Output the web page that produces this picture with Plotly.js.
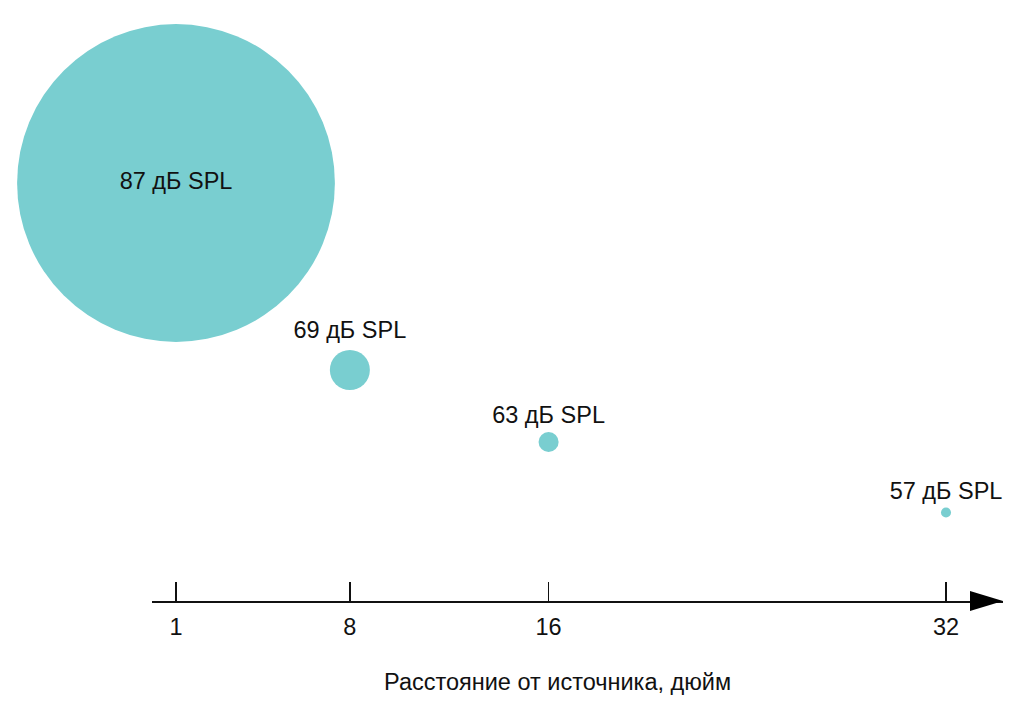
<!DOCTYPE html>
<html>
<head>
<meta charset="utf-8">
<script src="https://cdn.plot.ly/plotly-3.0.1.min.js"></script>
<style>html,body{margin:0;padding:0;background:#fff;}</style>
</head>
<body>
<div id="chart" style="width:1024px;height:710px;"></div>
<script>
// Data
const distance = [1, 8, 16, 32];          // inches from source
const levelDb = [87, 69, 63, 57];         // dB SPL
const level = [4.18, 2.31, 1.59, 0.885];  // vertical placement of each bubble (arbitrary units)
const tickValues = [1, 8, 16, 32];
const tickLabels = ['1', '8', '16', '32'];
const xTitle = 'Расстояние от источника, дюйм';

// Bubble area proportional to sound intensity
const intensity = levelDb.map(d => Math.pow(10, d / 10));
const minI = Math.min(...intensity);
const smallestDiameter = 10.05;
const labels = levelDb.map(d => d + ' дБ SPL');
const positions = levelDb.map((d, i) => i === 0 ? 'middle center' : 'top center');

const teal = '#79CED0';
const font = 'Liberation Sans, Arial, Helvetica, sans-serif';
const fs = 23.5;

const trace = {
  type: 'scatter',
  mode: 'markers+text',
  x: distance,
  y: level,
  text: labels,
  textposition: positions,
  textfont: {family: font, size: fs, color: '#111'},
  cliponaxis: false,
  hoverinfo: 'skip',
  marker: {
    color: teal,
    size: intensity,
    sizemode: 'area',
    sizeref: 2 * minI / (smallestDiameter * smallestDiameter),
    line: {width: 0},
    opacity: 1
  }
};

const pxPerUnit = (946 - 176) / 31;
const layout = {
  width: 1024,
  height: 710,
  margin: {l: 152, r: 21, t: 10, b: 109},
  paper_bgcolor: '#fff',
  plot_bgcolor: '#fff',
  showlegend: false,
  font: {family: font, color: '#111'},
  xaxis: {
    range: [1 - 24 / pxPerUnit, 1 + 827 / pxPerUnit],
    showgrid: false,
    zeroline: false,
    showline: true,
    linecolor: '#111',
    linewidth: 1.5,
    ticks: 'inside',
    ticklen: 19,
    tickwidth: 1.5,
    tickcolor: '#111',
    tickmode: 'array',
    tickvals: tickValues,
    ticktext: tickLabels,
    tickfont: {family: font, size: fs, color: '#111'},
    ticklabelstandoff: 4,
    fixedrange: true
  },
  yaxis: {
    range: [0, 5.91],
    visible: false,
    fixedrange: true
  },
  annotations: [{
    text: xTitle,
    xref: 'paper', yref: 'paper',
    x: (557.5 - 152) / 851, y: (601 - 682) / 591,
    xanchor: 'center', yanchor: 'middle',
    showarrow: false,
    font: {family: font, size: fs, color: '#111'}
  }],
  shapes: [{
    type: 'path',
    xref: 'paper', yref: 'paper',
    path: 'M 0.9612 0.0169 L 1 0 L 0.9612 -0.0169 Z',
    fillcolor: '#000',
    line: {width: 0}
  }]
};

Plotly.newPlot('chart', [trace], layout, {displayModeBar: false, staticPlot: true});
</script>
</body>
</html>
